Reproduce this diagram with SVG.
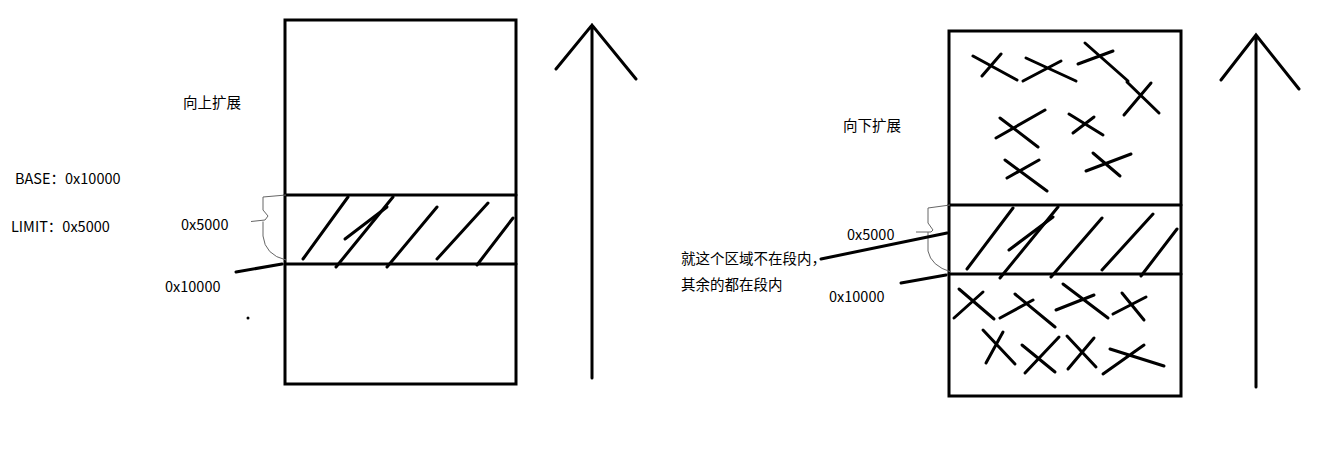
<svg xmlns="http://www.w3.org/2000/svg" width="1321" height="456" viewBox="0 0 1321 456">
<style>
.box{fill:none;stroke:#000;stroke-width:3}
.s{stroke:#000;stroke-width:3;stroke-linecap:round;fill:none}
.thin{stroke:#666;stroke-width:1;fill:none}
text{font-family:"Noto Sans CJK SC","Noto Sans",sans-serif;font-size:14.5px;fill:#000}
</style>
<rect width="1321" height="456" fill="#fff"/>
<g id="left-box">
<rect class="box" x="285" y="20" width="231" height="364"/>
<line class="s" x1="285" y1="195" x2="516" y2="195"/>
<line class="s" x1="285" y1="264" x2="516" y2="264"/>
<g class="s">
<line x1="303" y1="259" x2="348" y2="197"/>
<line x1="336" y1="267" x2="393" y2="197"/>
<line x1="345" y1="239" x2="387" y2="207"/>
<line x1="387" y1="267" x2="437" y2="207"/>
<line x1="437" y1="259" x2="488" y2="203"/>
<line x1="477" y1="265" x2="513" y2="218"/>
</g>
</g>
<g id="left-arrow">
<path class="s" d="M592 378 V25 M556 69 L592 25 L636 79"/>
</g>
<g id="right-box">
<rect class="box" x="949" y="31" width="232" height="365"/>
<line class="s" x1="949" y1="205" x2="1181" y2="205"/>
<line class="s" x1="949" y1="274" x2="1181" y2="274"/>
<g class="s">
<line x1="967" y1="269" x2="1013" y2="208"/>
<line x1="1000" y1="278" x2="1058" y2="207"/>
<line x1="1009" y1="250" x2="1053" y2="217"/>
<line x1="1051" y1="277" x2="1102" y2="218"/>
<line x1="1102" y1="270" x2="1153" y2="214"/>
<line x1="1141" y1="276" x2="1177" y2="229"/>
</g>
<g class="s">
<path d="M973 56 L1017 80 M982 76 L1001 54"/>
<path d="M1026 58 L1076 81 M1023 81 L1061 61"/>
<path d="M1085 43 L1128 81 M1078 64 L1113 51"/>
<path d="M1127 82 L1159 113 M1151 83 L1124 115"/>
<path d="M1000 118 L1038 147 M1045 110 L996 138"/>
<path d="M1069 114 L1103 135 M1094 117 L1073 133"/>
<path d="M1005 160 L1047 191 M1039 160 L1007 178"/>
<path d="M1093 153 L1120 176 M1131 154 L1086 171"/>
<path d="M959 289 L994 319 M954 318 L983 292"/>
<path d="M1015 294 L1055 327 M1000 318 L1033 300"/>
<path d="M1063 284 L1108 318 M1056 310 L1094 295"/>
<path d="M1122 293 L1144 320 M1113 314 L1146 297"/>
<path d="M983 330 L1015 364 M1003 332 L986 363"/>
<path d="M1022 345 L1055 372 M1059 337 L1025 373"/>
<path d="M1067 336 L1096 367 M1094 338 L1068 369"/>
<path d="M1110 349 L1164 366 M1144 345 L1103 374"/>
</g>
</g>
<g id="right-arrow">
<path class="s" d="M1256 387 V35 M1221 80 L1256 35 L1299 89"/>
</g>
<g id="connectors">
<path class="thin" d="M286 195 L263 197 L263 210 L268 216 L265 220 L251 221.5 M263 221.5 L263 236 Q265 255 286 260"/>
<line class="s" x1="236" y1="272" x2="282" y2="264"/>
<path class="thin" d="M950 205 L928 208 L928 223 L933 230 L931 232 L916 232 M928 232 L928 251 Q931 266 951 272"/>
<line class="s" x1="821" y1="259" x2="947" y2="233"/>
<line class="s" x1="901" y1="283" x2="946" y2="275"/>
<circle cx="248" cy="318" r="1.5" fill="#000"/>
</g>
<g id="labels">
<text x="183" y="108">向上扩展</text>
<text x="15" y="184">BASE：0x10000</text>
<text x="11" y="232">LIMIT：0x5000</text>
<text x="181" y="230">0x5000</text>
<text x="165" y="292">0x10000</text>
<text x="843" y="131">向下扩展</text>
<text x="847" y="240">0x5000</text>
<text x="681" y="264">就这个区域不在段内，</text>
<text x="681" y="290">其余的都在段内</text>
<text x="829" y="302">0x10000</text>
</g>
</svg>
